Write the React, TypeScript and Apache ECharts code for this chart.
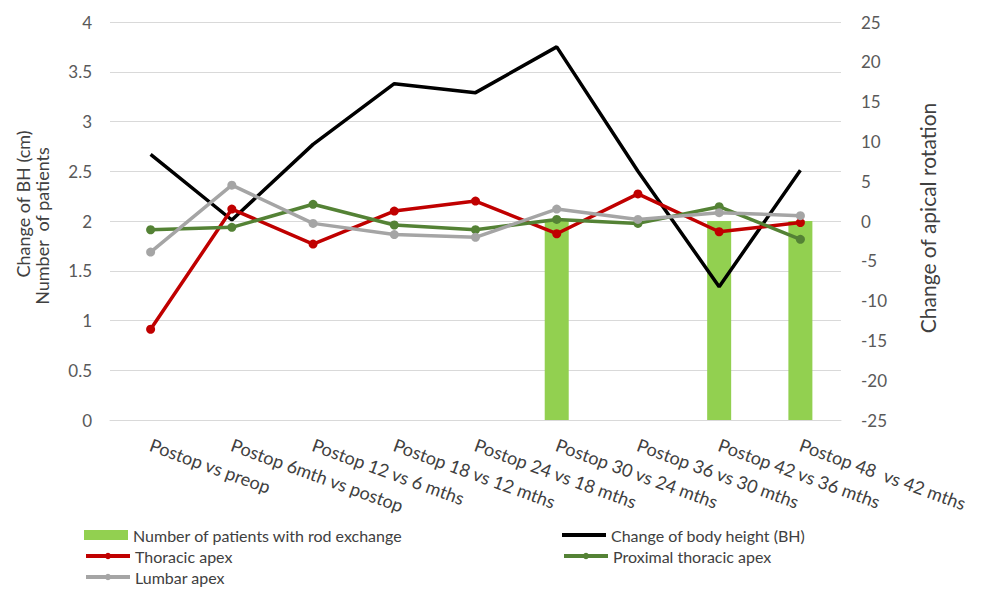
import React, { useEffect, useRef } from "react";
import * as echarts from "echarts";

const categories = [
  "Postop vs preop",
  "Postop 6mth vs postop",
  "Postop 12 vs 6 mths",
  "Postop 18 vs 12 mths",
  "Postop 24 vs 18 mths",
  "Postop 30 vs 24 mths",
  "Postop 36 vs 30 mths",
  "Postop 42 vs 36 mths",
  "Postop 48  vs 42 mths",
];
const rodExchange = [null, null, null, null, null, 2, null, 2, 2];
const bodyHeight = [2.67, 2.01, 2.77, 3.38, 3.29, 3.75, 2.5, 1.34, 2.51];
const thoracicApex = [-13.6, 1.5, -2.9, 1.25, 2.5, -1.6, 3.4, -1.35, -0.2];
const proximalThoracicApex = [-1.1, -0.8, 2.1, -0.5, -1.1, 0.2, -0.3, 1.8, -2.3];
const lumbarApex = [-3.9, 4.5, -0.3, -1.7, -2.05, 1.5, 0.2, 1.05, 0.67];

const FONT = "Lato, 'Open Sans', sans-serif";
const TXT = "#404040";

export default function App() {
  const ref = useRef<HTMLDivElement>(null);
  useEffect(() => {
    document.body.style.margin = "0";
    const chart = echarts.init(ref.current!, null, { renderer: "svg" });
    const legendText = { color: TXT, fontSize: 16, fontFamily: FONT };
    const mkLegend = (name: string, left: number, top: number, extra: any = {}) => ({
      data: [name],
      left,
      top,
      itemWidth: 44,
      itemHeight: 8,
      itemGap: 0,
      textStyle: legendText,
      selectedMode: false,
      lineStyle: { width: 4 },
      ...extra,
    });
    chart.setOption({
      animation: false,
      textStyle: { fontFamily: FONT },
      grid: { left: 110, right: 140, top: 22, bottom: 170, containLabel: false },
      legend: [
        mkLegend("Number of patients with rod exchange", 79, 522, { itemHeight: 10, icon: "rect" }),
        mkLegend("Change of body height (BH)", 557, 522, { icon: "rect", itemHeight: 4 }),
        mkLegend("Thoracic apex", 79, 543),
        mkLegend("Proximal thoracic apex", 557, 543),
        mkLegend("Lumbar apex", 79, 564),
      ],
      xAxis: {
        type: "category",
        data: categories,
        boundaryGap: true,
        axisLine: { show: true, lineStyle: { color: "#D9D9D9" } },
        axisTick: { show: false },
        axisLabel: {
          rotate: -20,
          margin: 24,
          interval: 0,
          fontSize: 18,
          color: TXT,
          fontFamily: FONT,
        },
      },
      yAxis: [
        {
          type: "value",
          min: 0,
          max: 4,
          interval: 0.5,
          axisLine: { show: false },
          axisTick: { show: false },
          splitLine: { lineStyle: { color: "#D9D9D9", width: 1 } },
          axisLabel: { fontSize: 17, color: "#595959", margin: 18, fontFamily: FONT },
        },
        {
          type: "value",
          min: -25,
          max: 25,
          interval: 5,
          axisLine: { show: false },
          axisTick: { show: false },
          splitLine: { show: false },
          axisLabel: { fontSize: 17, color: "#595959", margin: 20, fontFamily: FONT },
        },
      ],
      graphic: [
        {
          type: "text",
          x: 23,
          y: 204,
          rotation: Math.PI / 2,
          style: {
            text: "Change of BH (cm)",
            fontSize: 18,
            fontFamily: FONT,
            fill: TXT,
            textAlign: "center",
            textVerticalAlign: "middle",
          },
        },
        {
          type: "text",
          x: 42,
          y: 226,
          rotation: Math.PI / 2,
          style: {
            text: "Number  of patients",
            fontSize: 18,
            fontFamily: FONT,
            fill: TXT,
            textAlign: "center",
            textVerticalAlign: "middle",
          },
        },
        {
          type: "text",
          x: 927,
          y: 218,
          rotation: Math.PI / 2,
          style: {
            text: "Change of apical rotation",
            fontSize: 21,
            fontFamily: FONT,
            fill: TXT,
            textAlign: "center",
            textVerticalAlign: "middle",
          },
        },
      ],
      series: [
        {
          name: "Number of patients with rod exchange",
          type: "bar",
          yAxisIndex: 0,
          data: rodExchange,
          barWidth: 24,
          itemStyle: { color: "#92D050" },
        },
        {
          name: "Change of body height (BH)",
          type: "line",
          yAxisIndex: 0,
          data: bodyHeight,
          symbol: "none",
          lineStyle: { color: "#000000", width: 3.5 },
          itemStyle: { color: "#000000" },
        },
        {
          name: "Thoracic apex",
          type: "line",
          yAxisIndex: 1,
          data: thoracicApex,
          symbol: "circle",
          symbolSize: 9,
          lineStyle: { color: "#C00000", width: 3.5 },
          itemStyle: { color: "#C00000" },
        },
        {
          name: "Proximal thoracic apex",
          type: "line",
          yAxisIndex: 1,
          data: proximalThoracicApex,
          symbol: "circle",
          symbolSize: 9,
          lineStyle: { color: "#548235", width: 3.5 },
          itemStyle: { color: "#548235" },
        },
        {
          name: "Lumbar apex",
          type: "line",
          yAxisIndex: 1,
          data: lumbarApex,
          symbol: "circle",
          symbolSize: 9,
          lineStyle: { color: "#A5A5A5", width: 3.5 },
          itemStyle: { color: "#A5A5A5" },
        },
      ],
    });
    return () => chart.dispose();
  }, []);
  return (
    <div
      ref={ref}
      style={{ position: "absolute", left: 0, top: 0, width: 981, height: 590, background: "#fff" }}
    />
  );
}
